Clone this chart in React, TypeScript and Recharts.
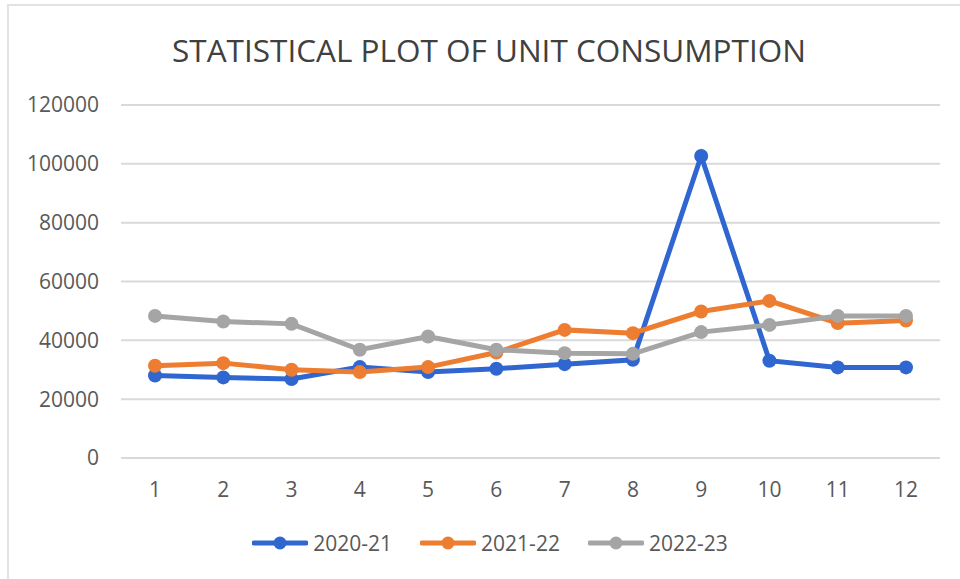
import { LineChart, Line, XAxis, YAxis, CartesianGrid, Legend } from 'recharts';

const months = ['1', '2', '3', '4', '5', '6', '7', '8', '9', '10', '11', '12'];
const units2020 = [28050, 27400, 26850, 30900, 29200, 30350, 31900, 33400, 102650, 33050, 30800, 30800];
const units2021 = [31350, 32250, 30000, 29200, 30900, 35850, 43550, 42450, 49800, 53400, 45850, 46750];
const units2022 = [48300, 46400, 45600, 36800, 41300, 36800, 35650, 35400, 42800, 45250, 48300, 48300];
const yTicks = [0, 20000, 40000, 60000, 80000, 100000, 120000];

const series = [
  { key: '2020-21', values: units2020, color: '#2f66d0' },
  { key: '2021-22', values: units2021, color: '#ed7d31' },
  { key: '2022-23', values: units2022, color: '#a5a5a5' },
];

const data = months.map((m, i) => ({
  month: m,
  '2020-21': units2020[i],
  '2021-22': units2021[i],
  '2022-23': units2022[i],
}));

const FONT = '"Open Sans", "Noto Sans", sans-serif';

function LegendContent() {
  return (
    <div
      style={{
        display: 'flex',
        justifyContent: 'center',
        alignItems: 'center',
        height: 24,
        gap: 28,
        fontFamily: FONT,
        fontSize: 21,
        color: '#595959',
      }}
    >
      {series.map((s) => (
        <div key={s.key} style={{ display: 'flex', alignItems: 'center', gap: 5 }}>
          <svg width={56} height={16}>
            <line x1={2} y1={8} x2={54} y2={8} stroke={s.color} strokeWidth={5} strokeLinecap="round" />
            <circle cx={28} cy={8} r={6.5} fill={s.color} />
          </svg>
          <span style={{ lineHeight: '24px' }}>{s.key}</span>
        </div>
      ))}
    </div>
  );
}

export default function App() {
  return (
    <div
      style={{
        position: 'absolute',
        left: 0,
        top: 0,
        width: 960,
        height: 579,
        background: '#fff',
        overflow: 'hidden',
      }}
    >
      <div
        style={{
          position: 'absolute',
          left: 7,
          top: 4,
          width: 1000,
          height: 700,
          borderTop: '2px solid #e3e3e3',
          borderLeft: '2px solid #e3e3e3',
        }}
      />
      <div
        style={{
          position: 'absolute',
          left: 0,
          width: 978,
          top: 30,
          textAlign: 'center',
          fontFamily: FONT,
          fontWeight: 400,
          fontSize: 31.5,
          lineHeight: '40px',
          color: '#404040',
        }}
      >
        STATISTICAL PLOT OF UNIT CONSUMPTION
      </div>
      <div style={{ position: 'absolute', left: 0, top: 0 }}>
        <LineChart width={960} height={579} data={data} margin={{ top: 105, right: 20, bottom: 67, left: 0 }}>
          <CartesianGrid vertical={false} stroke="#d9d9d9" strokeWidth={2} />
          <XAxis
            dataKey="month"
            axisLine={false}
            tickLine={false}
            tickSize={0}
            tickMargin={24}
            height={30}
            padding={{ left: 34, right: 34 }}
            interval={0}
            tick={{ fill: '#595959', fontSize: 21, fontFamily: FONT }}
          />
          <YAxis
            width={121}
            domain={[0, 120000]}
            ticks={yTicks}
            axisLine={false}
            tickLine={false}
            tickSize={0}
            tickMargin={22}
            tick={{ fill: '#595959', fontSize: 21, fontFamily: FONT }}
          />
          <Legend
            verticalAlign="bottom"
            content={() => <LegendContent />}
            wrapperStyle={{ position: 'absolute', left: 0, width: 980, top: 531, bottom: 'auto' }}
          />
          {series.map((s) => (
            <Line
              key={s.key}
              type="linear"
              dataKey={s.key}
              stroke={s.color}
              strokeWidth={5}
              dot={{ r: 7, fill: s.color, stroke: s.color, strokeWidth: 0 }}
              activeDot={false}
              isAnimationActive={false}
            />
          ))}
        </LineChart>
      </div>
    </div>
  );
}
